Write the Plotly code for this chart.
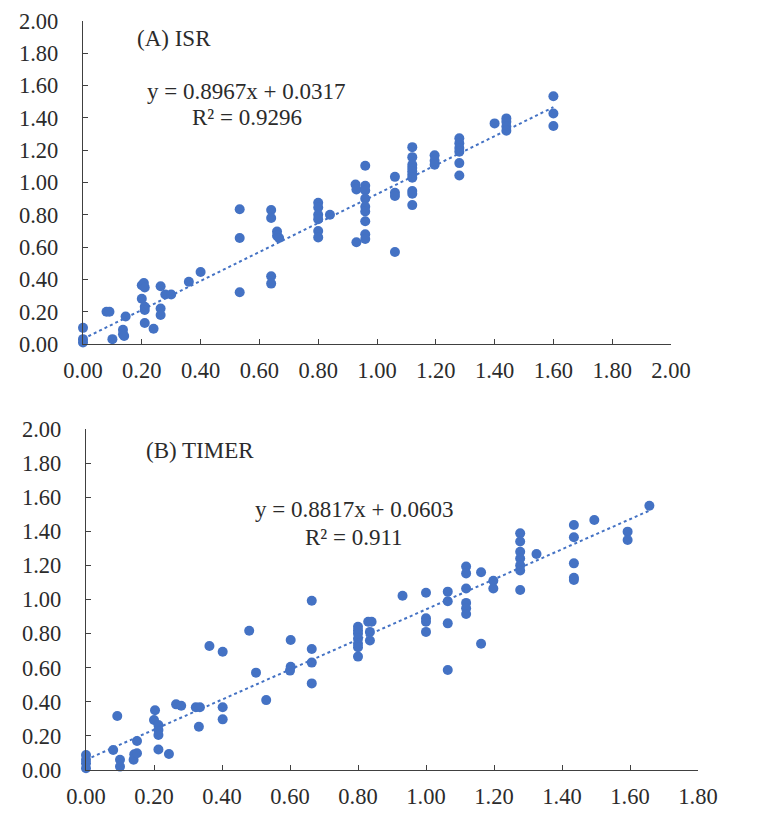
import plotly.graph_objects as go

# ---- Data: (A) ISR ----
isr_x = [0.0, 0.0, 0.0, 0.08, 0.09, 0.10, 0.136, 0.136, 0.14, 0.145,
         0.20, 0.207, 0.21, 0.20, 0.21, 0.21, 0.21, 0.24, 0.264, 0.264, 0.264,
         0.28, 0.30, 0.36, 0.40, 0.533, 0.533, 0.533,
         0.64, 0.64, 0.64, 0.64, 0.66, 0.66, 0.667,
         0.80, 0.80, 0.80, 0.80, 0.80, 0.80, 0.84,
         0.927, 0.93, 0.93,
         0.96, 0.96, 0.96, 0.96, 0.96, 0.96, 0.96, 0.96, 0.96,
         1.061, 1.061, 1.061, 1.061,
         1.12, 1.12, 1.12, 1.12, 1.12, 1.12, 1.12, 1.12, 1.12, 1.12,
         1.196, 1.196, 1.196,
         1.28, 1.28, 1.28, 1.28, 1.28, 1.28,
         1.40, 1.44, 1.44, 1.44, 1.44,
         1.60, 1.60, 1.60]
isr_y = [0.10, 0.03, 0.01, 0.20, 0.20, 0.03, 0.088, 0.06, 0.05, 0.17,
         0.364, 0.378, 0.35, 0.28, 0.23, 0.21, 0.13, 0.094, 0.358, 0.22, 0.18,
         0.307, 0.307, 0.385, 0.446, 0.834, 0.656, 0.32,
         0.83, 0.78, 0.42, 0.374, 0.697, 0.67, 0.656,
         0.875, 0.845, 0.80, 0.773, 0.70, 0.66, 0.80,
         0.988, 0.957, 0.63,
         1.104, 0.98, 0.95, 0.90, 0.85, 0.82, 0.76, 0.68, 0.65,
         1.035, 0.937, 0.916, 0.57,
         1.219, 1.157, 1.11, 1.09, 1.07, 1.05, 1.03, 0.947, 0.93, 0.86,
         1.168, 1.135, 1.11,
         1.274, 1.243, 1.213, 1.19, 1.12, 1.043,
         1.366, 1.397, 1.376, 1.346, 1.32,
         1.534, 1.427, 1.35]
isr_slope, isr_intercept = 0.8967, 0.0317
isr_eq = "y = 0.8967x + 0.0317"
isr_r2 = "R² = 0.9296"

# ---- Data: (B) TIMER ----
timer_x = [0.0, 0.0, 0.0, 0.0, 0.08, 0.092, 0.10, 0.10, 0.14, 0.142, 0.15, 0.15,
           0.203, 0.20, 0.213, 0.213, 0.213, 0.213, 0.244, 0.265, 0.28,
           0.323, 0.335, 0.332, 0.363, 0.402, 0.402, 0.402,
           0.48, 0.50, 0.53, 0.602, 0.602, 0.60,
           0.664, 0.664, 0.664, 0.664,
           0.80, 0.80, 0.80, 0.80, 0.80, 0.80, 0.80,
           0.83, 0.84, 0.835, 0.835,
           0.931, 1.0, 1.0, 1.0, 1.0,
           1.064, 1.064, 1.064, 1.064,
           1.118, 1.118, 1.118, 1.118, 1.118, 1.118,
           1.162, 1.162, 1.198, 1.198,
           1.277, 1.277, 1.277, 1.277, 1.277, 1.277, 1.277,
           1.325, 1.435, 1.435, 1.435, 1.435, 1.435,
           1.495, 1.593, 1.593, 1.657]
timer_y = [0.088, 0.06, 0.04, 0.01, 0.117, 0.317, 0.06, 0.02, 0.06, 0.092, 0.098, 0.17,
           0.35, 0.293, 0.264, 0.235, 0.205, 0.12, 0.094, 0.385, 0.377,
           0.368, 0.368, 0.254, 0.727, 0.694, 0.368, 0.297,
           0.817, 0.571, 0.41, 0.762, 0.606, 0.583,
           0.993, 0.71, 0.63, 0.508,
           0.84, 0.82, 0.80, 0.77, 0.74, 0.72, 0.665,
           0.87, 0.87, 0.81, 0.76,
           1.022, 1.04, 0.89, 0.87, 0.81,
           1.046, 0.99, 0.86, 0.587,
           1.193, 1.153, 1.065, 0.98, 0.948, 0.915,
           1.16, 0.74, 1.11, 1.065,
           1.388, 1.34, 1.28, 1.24, 1.20, 1.17, 1.056,
           1.267, 1.437, 1.365, 1.212, 1.128, 1.115,
           1.466, 1.398, 1.349, 1.55]
timer_slope, timer_intercept = 0.8817, 0.0603
timer_eq = "y = 0.8817x + 0.0603"
timer_r2 = "R² = 0.911"

tick_vals_2 = [0.0, 0.2, 0.4, 0.6, 0.8, 1.0, 1.2, 1.4, 1.6, 1.8, 2.0]
tick_vals_18 = [0.0, 0.2, 0.4, 0.6, 0.8, 1.0, 1.2, 1.4, 1.6, 1.8]

BLUE = "#4472C4"
FONT = "Liberation Serif"
TXT = "#2b2b2b"
AX = "#404040"

fig = go.Figure()

# scatter points
fig.add_trace(go.Scatter(x=isr_x, y=isr_y, mode="markers", xaxis="x", yaxis="y",
                         marker=dict(color=BLUE, size=10), cliponaxis=False, showlegend=False))
fig.add_trace(go.Scatter(x=timer_x, y=timer_y, mode="markers", xaxis="x2", yaxis="y2",
                         marker=dict(color=BLUE, size=10), cliponaxis=False, showlegend=False))

# trend lines
lx1 = [0.0, max(isr_x)]
fig.add_trace(go.Scatter(x=lx1, y=[isr_slope * v + isr_intercept for v in lx1], mode="lines",
                         xaxis="x", yaxis="y", line=dict(color=BLUE, width=2, dash="dot"),
                         showlegend=False))
lx2 = [0.0, max(timer_x)]
fig.add_trace(go.Scatter(x=lx2, y=[timer_slope * v + timer_intercept for v in lx2], mode="lines",
                         xaxis="x2", yaxis="y2", line=dict(color=BLUE, width=2, dash="dot"),
                         showlegend=False))

# page body has an 8px margin: figure is shrunk and shifted accordingly
OFF = 8
W, H = 774 - 2 * OFF, 817 - 2 * OFF

def px(p):
    return (p - OFF) / W

def py(p):
    return 1 - (p - OFF) / H

def axis_common(rng, vals):
    return dict(range=rng, tickvals=vals, tickformat=".2f", showgrid=False, zeroline=False,
                showline=True, linecolor=AX, linewidth=1.3, ticks="inside", ticklen=5,
                tickcolor=AX, tickwidth=1.3, automargin=False, ticklabeloverflow="allow",
                tickfont=dict(family=FONT, size=22.5, color=TXT), fixedrange=True)

fig.update_layout(
    width=W, height=H, margin=dict(l=0, r=0, t=0, b=0, autoexpand=False),
    paper_bgcolor="white", plot_bgcolor="white",
    xaxis=dict(domain=[px(83), px(671)], anchor="y", ticklabelstandoff=6,
               **axis_common([0, 2], tick_vals_2)),
    yaxis=dict(domain=[py(344), py(21)], anchor="x", ticklabelstandoff=19,
               **axis_common([0, 2], tick_vals_2)),
    xaxis2=dict(domain=[px(86), px(698)], anchor="y2", ticklabelstandoff=6,
                **axis_common([0, 1.8], tick_vals_18)),
    yaxis2=dict(domain=[py(770), py(429)], anchor="x2", ticklabelstandoff=19,
                **axis_common([0, 2], tick_vals_2)),
)

def ann(text, x, y, xanchor="center"):
    fig.add_annotation(text=text, x=px(x), y=py(y), xref="paper", yref="paper",
                       showarrow=False, xanchor=xanchor, yanchor="middle",
                       font=dict(family=FONT, size=23, color=TXT))

ann("(A) ISR", 135, 39, "left")
ann(isr_eq, 246, 91)
ann(isr_r2, 247, 117)
ann("(B) TIMER", 144, 450, "left")
ann(timer_eq, 354, 509)
ann(timer_r2, 354, 537)

fig.write_html("out.html")
